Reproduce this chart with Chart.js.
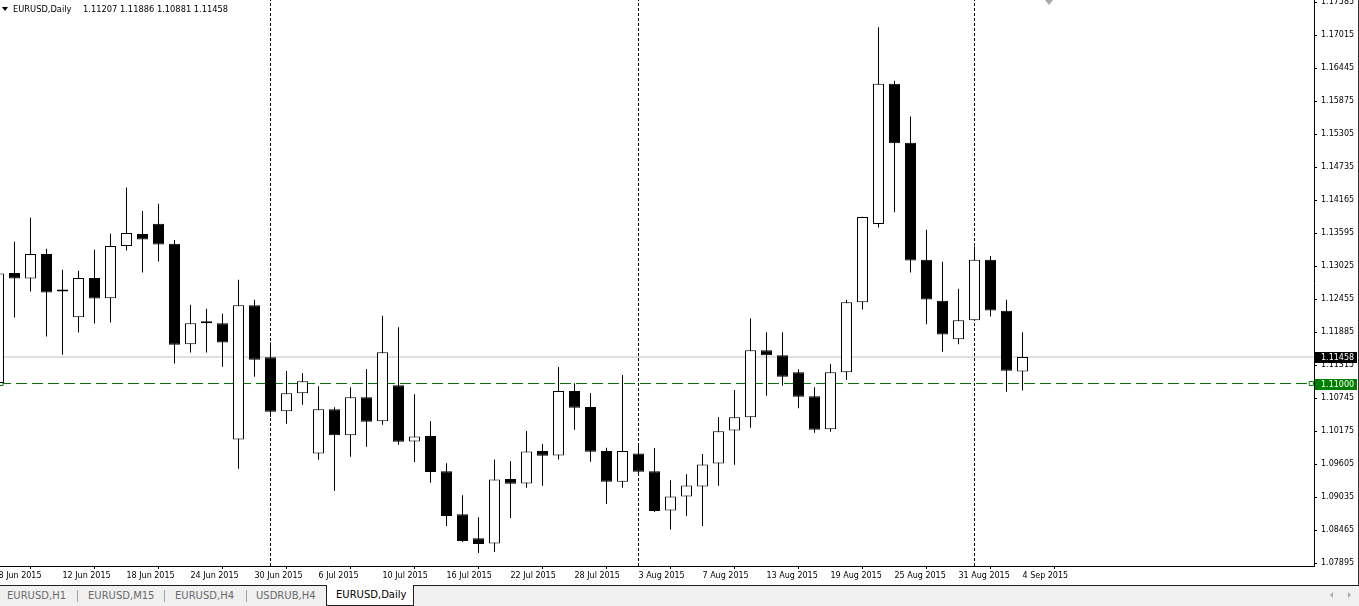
<!DOCTYPE html>
<html><head><meta charset="utf-8">
<script src="https://cdn.jsdelivr.net/npm/chart.js@4.4.0/dist/chart.umd.min.js"></script>
<style>
html,body{margin:0;padding:0;background:#fff;width:1359px;height:606px;overflow:hidden;font-family:"DejaVu Sans",sans-serif;}
#wrap{position:absolute;left:0;top:0;width:1358px;height:585px;border-right:1px solid #303030;}
#c{position:absolute;left:0;top:0;}
.tt{position:absolute;top:4px;font-size:8.3px;line-height:10px;color:#000;white-space:nowrap;}
#tri{position:absolute;left:2px;top:7px;width:0;height:0;border-left:3px solid transparent;border-right:3px solid transparent;border-top:4px solid #000;}
#shift{position:absolute;left:1045px;top:0;width:0;height:0;border-left:4px solid transparent;border-right:4px solid transparent;border-top:5px solid #a8a8a8;}
#tabs{position:absolute;left:0;top:585px;width:1359px;height:20px;background:#f0f0f0;border-top:1px solid #202020;font-size:10px;}
.tab{position:absolute;top:4px;color:#6a6a6a;white-space:nowrap;line-height:12px;}
.sep{position:absolute;top:4px;width:1px;height:12px;background:#a0a0a0;}
#act{position:absolute;left:326px;top:-1px;width:86px;height:20px;background:#fff;border:1px solid #202020;border-top:none;}
#act span{position:absolute;left:9px;top:4px;color:#000;line-height:12px;}
.arl{position:absolute;top:6px;width:0;height:0;border-top:3px solid transparent;border-bottom:3px solid transparent;}
</style></head>
<body>
<div id="wrap"><canvas id="c" width="1358" height="585"></canvas>
<div id="tri"></div>
<span class="tt" style="left:13px">EURUSD,Daily</span>
<span class="tt" style="left:83px">1.11207 1.11886 1.10881 1.11458</span>
<div id="shift"></div>
</div>
<div id="tabs">
<span class="tab" style="left:7px">EURUSD,H1</span>
<div class="sep" style="left:77px"></div>
<span class="tab" style="left:88px">EURUSD,M15</span>
<div class="sep" style="left:164px"></div>
<span class="tab" style="left:175px">EURUSD,H4</span>
<div class="sep" style="left:246px"></div>
<span class="tab" style="left:256px">USDRUB,H4</span>
<div id="act"><span>EURUSD,Daily</span></div>
<div class="arl" style="left:1330px;border-right:3px solid #a8a8a8;"></div>
<div class="arl" style="left:1348px;border-left:3px solid #a8a8a8;"></div>
</div>
<script>
const dates = [
 "8 Jun 2015","9 Jun 2015","10 Jun 2015","11 Jun 2015","12 Jun 2015","15 Jun 2015","16 Jun 2015","17 Jun 2015","18 Jun 2015","19 Jun 2015","22 Jun 2015","23 Jun 2015","24 Jun 2015","25 Jun 2015","26 Jun 2015","29 Jun 2015","30 Jun 2015",
 "1 Jul 2015","2 Jul 2015","3 Jul 2015","6 Jul 2015","7 Jul 2015","8 Jul 2015","9 Jul 2015","10 Jul 2015","13 Jul 2015","14 Jul 2015","15 Jul 2015","16 Jul 2015","17 Jul 2015","20 Jul 2015","21 Jul 2015","22 Jul 2015","23 Jul 2015","24 Jul 2015","27 Jul 2015","28 Jul 2015","29 Jul 2015","30 Jul 2015","31 Jul 2015",
 "3 Aug 2015","4 Aug 2015","5 Aug 2015","6 Aug 2015","7 Aug 2015","10 Aug 2015","11 Aug 2015","12 Aug 2015","13 Aug 2015","14 Aug 2015","17 Aug 2015","18 Aug 2015","19 Aug 2015","20 Aug 2015","21 Aug 2015","24 Aug 2015","25 Aug 2015","26 Aug 2015","27 Aug 2015","28 Aug 2015","31 Aug 2015",
 "1 Sep 2015","2 Sep 2015","3 Sep 2015","4 Sep 2015"];
const open = [1.11010,1.12908,1.12815,1.13237,1.12600,1.12147,1.12821,1.12475,1.13375,1.13583,1.13761,1.13415,1.11679,1.12048,1.12043,1.10035,1.12354,
 1.11454,1.10520,1.10832,1.09793,1.10555,1.10105,1.10762,1.10347,1.10970,1.10001,1.10093,1.09487,1.08743,1.08328,1.08236,1.09349,1.09274,1.09833,1.09759,1.10871,1.10594,1.09833,1.09302,
 1.09793,1.09487,1.08807,1.09049,1.09222,1.09620,1.10191,1.10416,1.11575,1.11489,1.11195,1.10780,1.10209,1.11195,1.12406,1.13756,1.16178,1.15158,1.13138,1.12429,1.11766,
 1.12095,1.13138,1.12256,1.11207];
const high = [1.13000,1.13450,1.13865,1.13328,1.12965,1.12948,1.13311,1.13588,1.14384,1.13981,1.14107,1.13479,1.12359,1.12290,1.12204,1.12792,1.12446,
 1.11714,1.11217,1.11183,1.10953,1.10589,1.10935,1.11252,1.12169,1.11974,1.10814,1.10352,1.09625,1.09072,1.08691,1.09689,1.09660,1.10179,1.09954,1.11287,1.11005,1.10837,1.09890,1.11148,
 1.09954,1.09885,1.09331,1.09435,1.09781,1.10421,1.10889,1.12129,1.11887,1.11887,1.11247,1.10935,1.11338,1.12446,1.13880,1.17153,1.16230,1.15613,1.13657,1.13104,1.12636,
 1.13368,1.13202,1.12446,1.11886];
const low = [1.10800,1.12140,1.12590,1.11811,1.11499,1.11880,1.12036,1.12053,1.13299,1.12918,1.13109,1.11344,1.11534,1.11534,1.11292,1.09527,1.11119,
 1.10421,1.10305,1.10634,1.09683,1.09146,1.09734,1.09907,1.10288,1.09942,1.09643,1.09285,1.08540,1.08264,1.08073,1.08091,1.08679,1.09198,1.09233,1.09689,1.10202,1.09648,1.08921,1.09198,
 1.09418,1.08783,1.08478,1.08713,1.08540,1.09233,1.09596,1.10236,1.10790,1.10963,1.10572,1.10150,1.10167,1.11062,1.12278,1.13697,1.13957,1.12918,1.12025,1.11551,1.11679,
 1.12090,1.12157,1.10859,1.10881];
const close = [1.12900,1.12815,1.13237,1.12572,1.12590,1.12821,1.12468,1.13375,1.13600,1.13489,1.13403,1.11672,1.12043,1.12040,1.11707,1.12354,1.11413,
 1.10513,1.10832,1.11039,1.10555,1.10105,1.10762,1.10340,1.11541,1.09994,1.10087,1.09470,1.08713,1.08281,1.08229,1.09343,1.09267,1.09828,1.09752,1.10871,1.10582,1.09821,1.09302,1.09833,
 1.09475,1.08800,1.09049,1.09240,1.09603,1.10174,1.10416,1.11575,1.11489,1.11119,1.10773,1.10202,1.11195,1.12406,1.13877,1.16178,1.15151,1.13126,1.12451,1.11846,1.12095,
 1.13138,1.12261,1.11223,1.11458];
const xTickIdx = [0,4,8,12,16,20,24,28,32,36,40,44,48,52,56,60,64];
const yTicks = [1.07895,1.08465,1.09035,1.09605,1.10175,1.10745,1.11315,1.11885,1.12455,1.13025,1.13595,1.14165,1.14735,1.15305,1.15875,1.16445,1.17015,1.17585];
const separatorIdx = [17,40,61];
const bidPrice = 1.11458;
const levelPrice = 1.11000;

const X_MIN = 0.09375, X_MAX = 82.21875;
const Y_MIN = 1.078484, Y_MAX = 1.176248;

Chart.defaults.font.family = '"DejaVu Sans", sans-serif';
Chart.defaults.font.size = 8;
Chart.defaults.color = '#000';

const datasets = [
 {type:'bar', data: dates.map((d,i)=>({x:i, y:[open[i], close[i]]})),
  backgroundColor: dates.map((d,i)=> close[i] >= open[i] ? '#ffffff' : '#000000'),
  borderColor:'#000', borderWidth:1, borderSkipped:false, barThickness:11, grouped:false,
  minBarLength:2, inflateAmount:0, order:0},
 {type:'bar', data: dates.map((d,i)=>({x:i, y:[low[i], high[i]]})),
  backgroundColor:'#000', borderWidth:0, barThickness:1, grouped:false, inflateAmount:0, order:1},
 {type:'line', data:[{x:X_MIN,y:bidPrice},{x:X_MAX,y:bidPrice}], borderColor:'#c0c0c0', borderWidth:1, pointRadius:0, order:3},
 {type:'line', data:[{x:X_MIN,y:levelPrice},{x:0.156,y:levelPrice},{x:82.05,y:levelPrice},{x:X_MAX,y:levelPrice}],
  borderColor:'#007000', borderWidth:1, borderDash:[11,5], pointStyle:'rect', pointRadius:[0,2.9,2.9,0],
  pointBorderColor:'#008000', pointBackgroundColor:'#fff', pointBorderWidth:1, order:2}
];
separatorIdx.forEach(s => datasets.push({type:'line', data:[{x:s,y:Y_MIN},{x:s,y:Y_MAX}], borderColor:'#000', borderWidth:1, borderDash:[3,2], pointRadius:0, order:4}));

const tags = {
 id:'tags',
 afterDraw(chart){
  const ctx = chart.ctx, y = chart.scales.y, a = chart.chartArea;
  [[bidPrice,'#000000'],[levelPrice,'#008000']].forEach(([p,col])=>{
    const py = Math.round(y.getPixelForValue(p));
    ctx.save();
    ctx.fillStyle = col;
    ctx.fillRect(a.right+1, py-5, 42, 11);
    ctx.fillStyle = '#fff';
    ctx.font = '8px "DejaVu Sans"';
    ctx.textBaseline = 'middle';
    ctx.textAlign = 'left';
    ctx.fillText(p.toFixed(5), a.right+7, py+0.5);
    ctx.restore();
  });
 }
};

new Chart(document.getElementById('c'), {
 type:'bar',
 data:{datasets},
 options:{
  responsive:false, animation:false, devicePixelRatio:1,
  layout:{padding:0, autoPadding:false},
  plugins:{legend:{display:false}, tooltip:{enabled:false}},
  scales:{
   x:{type:'linear', min:X_MIN, max:X_MAX, bounds:'data', offset:false,
      grid:{drawOnChartArea:false, drawTicks:true, tickLength:3, color:'#000'},
      border:{display:true, color:'#000', width:1},
      ticks:{autoSkip:false, maxRotation:0, minRotation:0, align:'start', padding:2, color:'#000',
             callback:(v)=> dates[v] !== undefined ? dates[v] : ''},
      afterBuildTicks:(s)=>{ s.ticks = xTickIdx.map(v=>({value:v})); },
      afterFit:(s)=>{ s.height = 19; s.paddingLeft = 0; s.paddingRight = 0; }},
   y:{type:'linear', position:'right', min:Y_MIN, max:Y_MAX, bounds:'data',
      grid:{drawOnChartArea:false, drawTicks:true, tickLength:3, color:'#000'},
      border:{display:true, color:'#000', width:1},
      ticks:{autoSkip:false, padding:4, color:'#000', callback:(v)=> Number(v).toFixed(5)},
      afterBuildTicks:(s)=>{ s.ticks = yTicks.map(v=>({value:v})); },
      afterFit:(s)=>{ s.width = 44; s.paddingTop = 0; s.paddingBottom = 0; }}
  }
 },
 plugins:[tags]
});
</script>
</body></html>
